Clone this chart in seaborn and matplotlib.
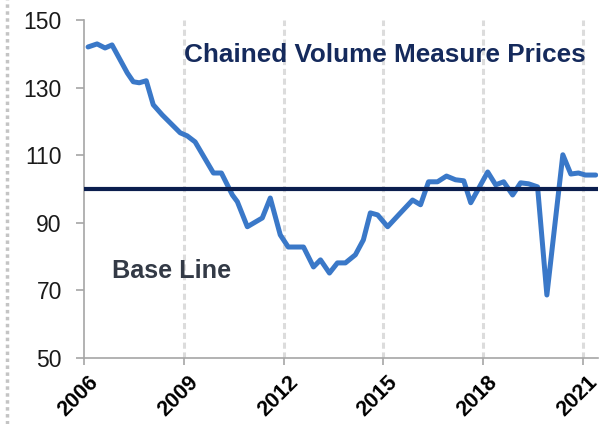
import numpy as np
import pandas as pd
import matplotlib
matplotlib.use("Agg")
import matplotlib.pyplot as plt
import seaborn as sns
from matplotlib.lines import Line2D
from matplotlib.transforms import ScaledTranslation

# values (index, base = 100)
years = [2006.12, 2006.39, 2006.63, 2006.84, 2007.30, 2007.48, 2007.66, 2007.87,
         2008.08, 2008.35, 2008.89, 2009.10, 2009.34, 2009.89, 2010.13, 2010.46,
         2010.61, 2010.91, 2011.36, 2011.60, 2011.90, 2012.14, 2012.60, 2012.90,
         2013.11, 2013.38, 2013.62, 2013.86, 2014.16, 2014.40, 2014.61, 2014.83,
         2015.13, 2015.46, 2015.88, 2016.12, 2016.36, 2016.63, 2016.90, 2017.17,
         2017.42, 2017.63, 2018.14, 2018.38, 2018.62, 2018.89, 2019.13, 2019.37,
         2019.64, 2019.92, 2020.40, 2020.64, 2020.87, 2021.08, 2021.39]
prices = [142.0, 142.9, 141.7, 142.6, 134.3, 131.7, 131.4, 132.0,
          124.9, 121.9, 116.6, 115.7, 113.9, 104.7, 104.7, 98.2,
          96.2, 88.8, 91.4, 97.3, 86.4, 82.8, 82.8, 76.9,
          79.0, 75.1, 78.1, 78.1, 80.5, 84.9, 92.9, 92.3,
          88.8, 92.3, 96.7, 95.3, 102.1, 102.1, 103.8, 102.7,
          102.4, 95.9, 105.0, 101.2, 102.1, 98.2, 101.8, 101.5,
          100.6, 68.6, 110.1, 104.4, 104.7, 104.1, 104.1]
base_level = 100
tick_years = [2006, 2009, 2012, 2015, 2018, 2021]
y_ticks = [50, 70, 90, 110, 130, 150]

title_text = "Chained Volume Measure Prices"
base_text = "Base Line"

df = pd.DataFrame({"year": years, "price": prices})

sns.set_style("white")
plt.rcParams['font.family'] = ['Liberation Sans', 'DejaVu Sans']

fig = plt.figure(figsize=(6.05, 4.24), dpi=100)
ax = fig.add_axes([0.139, 0.156, 0.849, 0.797])

# dashed year gridlines
for yr in tick_years[1:]:
    ax.axvline(yr, color='#dcdcdc', lw=2.2, ls=(0, (2, 1.2)), zorder=0)

sns.lineplot(data=df, x='year', y='price', ax=ax, color='#3a78c8',
             linewidth=3.6, zorder=3)
ax.axhline(base_level, color='#0b1e4e', lw=3, zorder=4)

ax.set_xlim(2006, 2021.45)
ax.set_ylim(50, 150)
ax.set_xticks(tick_years)
ax.set_yticks(y_ticks)
ax.set_xlabel("")
ax.set_ylabel("")

for side in ['top', 'right']:
    ax.spines[side].set_visible(False)
for side in ['left', 'bottom']:
    ax.spines[side].set_color('#a6a6a6')
    ax.spines[side].set_linewidth(1.2)

ax.tick_params(axis='y', colors='#a6a6a6', length=6, width=1.2,
               labelsize=16.5, labelcolor='#1a1a1a', pad=10, left=True)
ax.tick_params(axis='x', colors='#a6a6a6', length=5, width=1.2,
               labelsize=15.5, labelcolor='#000000', pad=5, bottom=True)
shift = ScaledTranslation(4 / 100, 0, fig.dpi_scale_trans)
for lab in ax.get_xticklabels():
    lab.set_rotation(45)
    lab.set_ha('right')
    lab.set_rotation_mode('anchor')
    lab.set_fontweight('bold')
    lab.set_transform(lab.get_transform() + shift)

ax.text(2009.0, 139.6, title_text, fontsize=18.8, fontweight='bold',
        color='#152a5c', va='center', ha='left')
ax.text(2006.84, 75.7, base_text, fontsize=18.2, fontweight='bold',
        color='#333a46', va='center', ha='left')

# dotted frame line on the left edge
fig.add_artist(Line2D([0.011, 0.011], [0, 1], transform=fig.transFigure,
                      color='#c4c4c4', lw=2.5, ls=(0, (1, 1))))

fig.savefig("out.png", dpi=100)
